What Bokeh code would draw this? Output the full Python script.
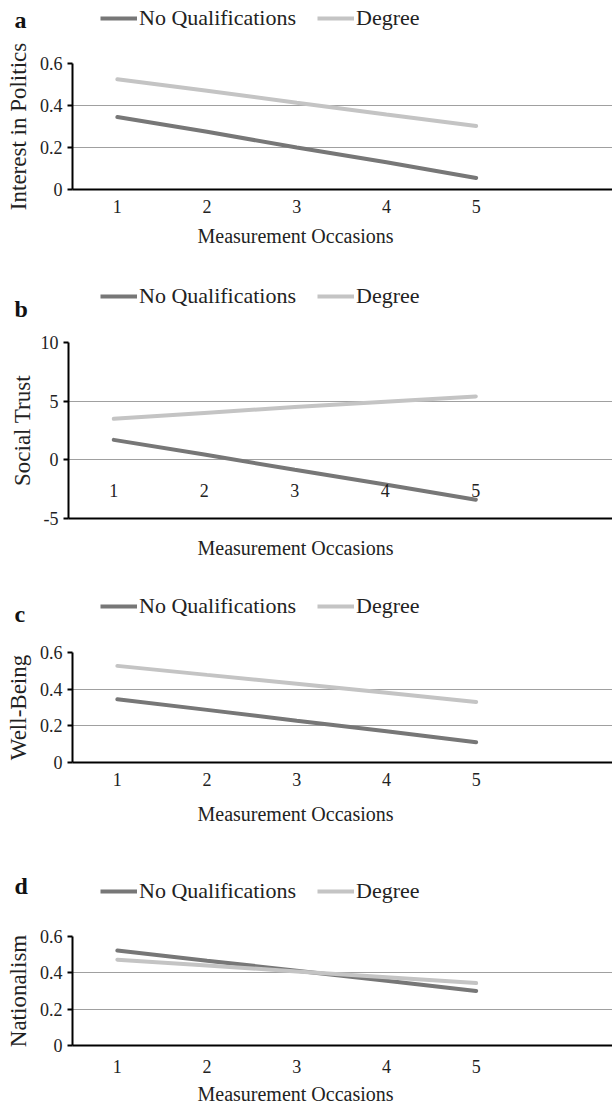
from bokeh.plotting import figure
from bokeh.models import Range1d, FixedTicker, Legend, LegendItem, Label, ColumnDataSource, Title
from bokeh.layouts import column
from bokeh.embed import file_html
from bokeh.resources import INLINE
from bokeh.core.properties import value

# ---------------- data ----------------
occasions = [1, 2, 3, 4, 5]
x_tick_labels = ["1", "2", "3", "4", "5"]
series_names = ["No Qualifications", "Degree"]
x_title = "Measurement Occasions"

politics_noqual = [0.345, 0.275, 0.20, 0.13, 0.055]
politics_degree = [0.525, 0.47, 0.413, 0.357, 0.302]

trust_noqual = [1.7, 0.45, -0.85, -2.1, -3.4]
trust_degree = [3.5, 4.0, 4.5, 4.95, 5.4]

wellbeing_noqual = [0.345, 0.287, 0.228, 0.17, 0.11]
wellbeing_degree = [0.527, 0.478, 0.43, 0.38, 0.33]

nationalism_noqual = [0.523, 0.467, 0.412, 0.356, 0.30]
nationalism_degree = [0.472, 0.44, 0.408, 0.376, 0.344]

y_ticks_share = [0, 0.2, 0.4, 0.6]
y_labels_share = ["0", "0.2", "0.4", "0.6"]
y_ticks_trust = [-5, 0, 5, 10]
y_labels_trust = ["-5", "0", "5", "10"]
trust_xlabel_y = -2.64

# ---------------- style ----------------
FONT = "Liberation Serif"
DARK = "#777777"
LIGHT = "#c4c4c4"
GRID = "#a0a0a0"
TXT = "#222222"
W = 612


def header(letter, noqual, degree, height, legend_y, letter_y):
    # strip holding the panel letter and the legend; the series are drawn
    # outside its visible range so only the legend samples show
    h = figure(width=W, height=height, output_backend="svg", toolbar_location=None,
               x_range=Range1d(-20, -19), y_range=Range1d(-20, -19),
               x_axis_location=None, y_axis_location=None,
               min_border=0, min_border_left=0, min_border_right=0,
               min_border_top=0, min_border_bottom=0, frame_align=False)
    h.outline_line_color = None
    h.xgrid.visible = False
    h.ygrid.visible = False
    r1 = h.line(occasions, noqual, line_color=DARK, line_width=4)
    r2 = h.line(occasions, degree, line_color=LIGHT, line_width=4)
    legend = Legend(items=[LegendItem(label=series_names[0], renderers=[r1]),
                           LegendItem(label=series_names[1], renderers=[r2])],
                    orientation="horizontal",
                    location=(100, height - legend_y - 12),
                    border_line_color=None, background_fill_alpha=0,
                    padding=0, margin=0, spacing=21,
                    glyph_width=37, glyph_height=24, label_height=24,
                    label_standoff=2,
                    label_text_font=FONT, label_text_font_size="22px",
                    label_text_color=TXT)
    h.add_layout(legend, "center")
    lab = Label(x=14, y=height - letter_y,
                x_units="screen", y_units="screen", text=letter,
                text_font=FONT, text_font_size="24px", text_font_style="bold",
                text_baseline="middle", text_align="left", text_color="#111111")
    h.add_layout(lab)
    return h


def panel(ylabel, noqual, degree, yticks, ylabels, ymin, ymax,
          height, top, bottom, left, x_end, tick_standoff, title_standoff,
          title_offset, ytitle_standoff, inline_xlabels=False):
    p = figure(width=W, height=height, output_backend="svg", toolbar_location=None,
               x_range=Range1d(0.5, x_end), y_range=Range1d(ymin, ymax),
               min_border_top=top, min_border_bottom=bottom,
               min_border_left=left, min_border_right=0, frame_align=False)
    p.outline_line_color = None
    p.xgrid.grid_line_color = None
    p.ygrid.grid_line_color = GRID
    p.ygrid.grid_line_width = 1
    p.ygrid.ticker = FixedTicker(ticks=yticks)

    p.line(occasions, noqual, line_color=DARK, line_width=4, line_cap="round")
    p.line(occasions, degree, line_color=LIGHT, line_width=4, line_cap="round")

    xa = p.xaxis[0]
    xa.major_tick_out = 0
    xa.major_tick_in = 0
    xa.minor_tick_out = 0
    xa.minor_tick_in = 0
    xa.axis_line_color = "black"
    xa.axis_line_width = 2
    xa.major_label_text_font = FONT
    xa.major_label_text_font_size = "18px"
    xa.major_label_text_color = TXT
    xa.major_label_standoff = tick_standoff
    if inline_xlabels:
        xa.ticker = FixedTicker(ticks=[])
        src = ColumnDataSource(dict(x=occasions, y=[trust_xlabel_y] * len(occasions),
                                    t=x_tick_labels))
        p.text(x="x", y="y", text="t", source=src, text_align="center",
               text_baseline="middle", text_font=value(FONT),
               text_font_size="18px", text_color=TXT)
    else:
        xa.ticker = FixedTicker(ticks=occasions)
        xa.major_label_overrides = {o: l for o, l in zip(occasions, x_tick_labels)}

    p.add_layout(Title(text=x_title, align="left", offset=title_offset,
                       standoff=title_standoff, text_font=FONT,
                       text_font_size="20px", text_font_style="normal",
                       text_color=TXT), "below")

    ya = p.yaxis[0]
    ya.ticker = FixedTicker(ticks=yticks)
    ya.major_label_overrides = {t: l for t, l in zip(yticks, ylabels)}
    ya.major_tick_out = 5
    ya.major_tick_in = 0
    ya.major_tick_line_color = "black"
    ya.major_tick_line_width = 2
    ya.minor_tick_out = 0
    ya.minor_tick_in = 0
    ya.axis_line_color = "black"
    ya.axis_line_width = 2
    ya.major_label_text_font = FONT
    ya.major_label_text_font_size = "18px"
    ya.major_label_text_color = TXT
    ya.major_label_standoff = 5
    ya.axis_label = ylabel
    ya.axis_label_text_font = FONT
    ya.axis_label_text_font_size = "23px"
    ya.axis_label_text_font_style = "normal"
    ya.axis_label_text_color = TXT
    ya.axis_label_standoff = ytitle_standoff
    return p


ha = header("a", politics_noqual, politics_degree, 40, 19, 19)
pa = panel("Interest in Politics", politics_noqual, politics_degree,
           y_ticks_share, y_labels_share, 0, 0.6,
           height=222, top=23, bottom=73, left=72, x_end=6.52,
           tick_standoff=10, title_standoff=14, title_offset=125, ytitle_standoff=6)
hb = header("b", trust_noqual, trust_degree, 60, 35, 46)
pb = panel("Social Trust", trust_noqual, trust_degree,
           y_ticks_trust, y_labels_trust, -5, 10,
           height=253, top=20, bottom=57, left=68, x_end=6.51,
           tick_standoff=0, title_standoff=32, title_offset=129, ytitle_standoff=3,
           inline_xlabels=True)
hc = header("c", wellbeing_noqual, wellbeing_degree, 50, 32, 38)
pc = panel("Well-Being", wellbeing_noqual, wellbeing_degree,
           y_ticks_share, y_labels_share, 0, 0.6,
           height=227, top=27, bottom=90, left=72, x_end=6.52,
           tick_standoff=10, title_standoff=24, title_offset=125, ytitle_standoff=6)
hd = header("d", nationalism_noqual, nationalism_degree, 53, 40, 33)
pd_ = panel("Nationalism", nationalism_noqual, nationalism_degree,
            y_ticks_share, y_labels_share, 0, 0.6,
            height=205, top=31, bottom=63, left=72, x_end=6.52,
            tick_standoff=14, title_standoff=11, title_offset=125, ytitle_standoff=6)

layout = column(ha, pa, hb, pb, hc, pc, hd, pd_, spacing=0)
open("out.html", "w").write(file_html(layout, INLINE))
